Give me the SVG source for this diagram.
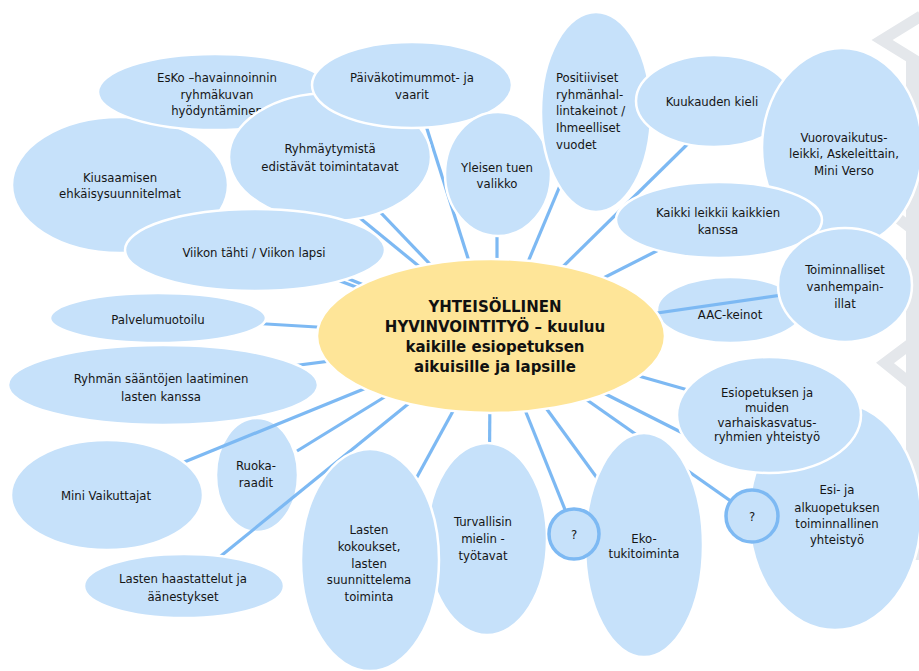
<svg xmlns="http://www.w3.org/2000/svg" width="919" height="671" viewBox="0 0 919 671">
<style>
.n{fill:#c6e1fa;stroke:#ffffff;stroke-width:2.5}
.q{fill:#c6e1fa;stroke:#7db9f3;stroke-width:3.5}
.ctr{fill:#fee598;stroke:#ffffff;stroke-width:2.5}
.t{font-family:"DejaVu Sans Condensed","DejaVu Sans",sans-serif;font-size:13px;fill:#151515;text-anchor:middle}
.ts{font-family:"DejaVu Sans Condensed","DejaVu Sans",sans-serif;font-size:13px;fill:#151515;text-anchor:start}
.ct{font-family:"DejaVu Sans",sans-serif;font-size:15px;font-weight:bold;fill:#111;text-anchor:middle}
#connectors line{stroke:#7db9f3;stroke-width:3.2;stroke-linecap:butt}
.wm{fill:none;stroke:#e4e7eb;stroke-width:11}
</style>
<rect width="919" height="671" fill="#ffffff"/>
<g id="watermark">
<polyline class="wm" points="921,16 882,40 921,64"/>
<polyline class="wm" points="921,336 885,363 921,392"/>
<polyline class="wm" points="921,190 890,212 921,236"/>
<rect x="906" y="60" width="15" height="500" fill="#e4e7eb"/>
</g>
<g id="back-nodes">
<g id="n-aac"><ellipse class="n" cx="730" cy="310" rx="73" ry="33"/><text class="t" x="730" y="319">AAC-keinot</text></g>
<g id="n-ruoka"><ellipse class="n" cx="257" cy="475" rx="41" ry="57"/><text class="t" x="256" y="470">Ruoka-</text><text class="t" x="256" y="487">raadit</text></g>
</g>
<g id="connectors">
<line x1="470" y1="308" x2="300" y2="169"/>
<line x1="470" y1="306" x2="340" y2="170"/>
<line x1="480" y1="296" x2="415" y2="91"/>
<line x1="497" y1="300" x2="497" y2="190"/>
<line x1="512" y1="300" x2="575" y2="150"/>
<line x1="530" y1="299" x2="710" y2="122"/>
<line x1="560" y1="300" x2="700" y2="229"/>
<line x1="560" y1="327" x2="845" y2="286"/>
<line x1="600" y1="365" x2="769" y2="413"/>
<line x1="560" y1="371" x2="835" y2="510"/>
<line x1="560" y1="381" x2="752" y2="516"/>
<line x1="530" y1="386" x2="640" y2="537"/>
<line x1="515" y1="385" x2="574" y2="532"/>
<line x1="490" y1="390" x2="489" y2="520"/>
<line x1="470" y1="380" x2="370" y2="563"/>
<line x1="450" y1="370" x2="190" y2="581"/>
<line x1="430" y1="369" x2="297" y2="451"/>
<line x1="430" y1="362" x2="150" y2="476"/>
<line x1="400" y1="352" x2="200" y2="378"/>
<line x1="400" y1="332" x2="200" y2="320"/>
<line x1="420" y1="311" x2="300" y2="266"/>
<line x1="420" y1="308" x2="300" y2="259"/>
</g>
<g id="center"><ellipse class="ctr" cx="491" cy="336" rx="174" ry="77"/>
<text class="ct" x="495" y="312">YHTEISÖLLINEN</text>
<text class="ct" x="495" y="332">HYVINVOINTITYÖ – kuuluu</text>
<text class="ct" x="495" y="352">kaikille esiopetuksen</text>
<text class="ct" x="495" y="372">aikuisille ja lapsille</text>
</g>
<g id="n-kiusaamisen"><ellipse class="n" cx="120" cy="185" rx="108" ry="68"/><text class="t" x="120" y="181.5">Kiusaamisen</text><text class="t" x="120" y="198">ehkäisysuunnitelmat</text></g>
<g id="n-esko"><ellipse class="n" cx="215" cy="92" rx="117" ry="38"/><text class="t" x="217" y="82">EsKo –havainnoinnin</text><text class="t" x="217" y="98.5">ryhmäkuvan</text><text class="t" x="217" y="115">hyödyntäminen</text></g>
<g id="n-ryhmaytymista"><ellipse class="n" cx="330" cy="157" rx="101" ry="64"/><text class="t" x="330" y="153">Ryhmäytymistä</text><text class="t" x="330" y="170.5">edistävät toimintatavat</text></g>
<g id="n-viikon"><ellipse class="n" cx="255" cy="250" rx="130" ry="41"/><text class="t" x="254" y="256.5">Viikon tähti / Viikon lapsi</text></g>
<g id="n-paivakoti"><ellipse class="n" cx="412" cy="85" rx="100" ry="43"/><text class="t" x="412" y="82">Päiväkotimummot- ja</text><text class="t" x="412" y="99">vaarit</text></g>
<g id="n-yleisen"><ellipse class="n" cx="498" cy="174" rx="53" ry="62"/><text class="t" x="497" y="171.5">Yleisen tuen</text><text class="t" x="497" y="188">valikko</text></g>
<g id="n-positiiviset"><ellipse class="n" cx="596" cy="112" rx="55" ry="100"/><text class="ts" x="556" y="82">Positiiviset</text><text class="ts" x="556" y="98.5">ryhmänhal-</text><text class="ts" x="556" y="115">lintakeinot /</text><text class="ts" x="556" y="132">Ihmeelliset</text><text class="ts" x="556" y="149">vuodet</text></g>
<g id="n-kuukauden"><ellipse class="n" cx="714" cy="101" rx="78" ry="46"/><text class="t" x="712" y="106">Kuukauden kieli</text></g>
<g id="n-vuorovaikutus"><ellipse class="n" cx="842" cy="148" rx="80" ry="100"/><text class="t" x="844" y="141.5">Vuorovaikutus-</text><text class="t" x="844" y="158">leikki, Askeleittain,</text><text class="t" x="844" y="175">Mini Verso</text></g>
<g id="n-kaikki"><ellipse class="n" cx="719" cy="220" rx="103" ry="38"/><text class="t" x="718" y="217">Kaikki leikkii kaikkien</text><text class="t" x="718" y="234">kanssa</text></g>
<g id="n-toiminnalliset"><ellipse class="n" cx="845" cy="285" rx="67" ry="57"/><text class="t" x="845" y="274">Toiminnalliset</text><text class="t" x="845" y="291">vanhempain-</text><text class="t" x="845" y="308">illat</text></g>
<g id="n-palvelumuotoilu"><ellipse class="n" cx="158" cy="318" rx="108" ry="25"/><text class="t" x="158" y="324">Palvelumuotoilu</text></g>
<g id="n-ryhman"><ellipse class="n" cx="163" cy="385" rx="155" ry="40"/><text class="t" x="161" y="383">Ryhmän sääntöjen laatiminen</text><text class="t" x="161" y="400.5">lasten kanssa</text></g>
<g id="n-mini"><ellipse class="n" cx="107" cy="495" rx="96" ry="55"/><text class="t" x="106" y="500">Mini Vaikuttajat</text></g>
<g id="n-haastattelut"><ellipse class="n" cx="184" cy="586" rx="100" ry="32"/><text class="t" x="183" y="583">Lasten haastattelut ja</text><text class="t" x="183" y="600.5">äänestykset</text></g>
<g id="n-turvallisin"><ellipse class="n" cx="487" cy="539" rx="60" ry="96"/><text class="t" x="483" y="526">Turvallisin</text><text class="t" x="483" y="542.5">mielin -</text><text class="t" x="483" y="560">työtavat</text></g>
<g id="n-kokoukset"><ellipse class="n" cx="370" cy="560" rx="69" ry="111"/><text class="t" x="369" y="534">Lasten</text><text class="t" x="369" y="551">kokoukset,</text><text class="t" x="369" y="568">lasten</text><text class="t" x="369" y="584">suunnittelema</text><text class="t" x="369" y="601">toiminta</text></g>
<g id="n-eko"><ellipse class="n" cx="644" cy="545" rx="59" ry="112"/><text class="t" x="644" y="543">Eko-</text><text class="t" x="644" y="558">tukitoiminta</text></g>
<g id="n-esija"><ellipse class="n" cx="835" cy="516" rx="86" ry="114"/><text class="t" x="837" y="494">Esi- ja</text><text class="t" x="837" y="511.5">alkuopetuksen</text><text class="t" x="837" y="528">toiminnallinen</text><text class="t" x="837" y="544">yhteistyö</text></g>
<g id="n-esiopetuksen"><ellipse class="n" cx="769" cy="415" rx="92" ry="58"/><text class="t" x="767" y="396.5">Esiopetuksen ja</text><text class="t" x="767" y="411.5">muiden</text><text class="t" x="767" y="426.5">varhaiskasvatus-</text><text class="t" x="767" y="441">ryhmien yhteistyö</text></g>
<g id="n-q1"><circle class="q" cx="574" cy="534" r="25"/><text class="t" x="574" y="539">?</text></g>
<g id="n-q2"><circle class="q" cx="752" cy="516" r="26"/><text class="t" x="752" y="521">?</text></g>
</svg>
